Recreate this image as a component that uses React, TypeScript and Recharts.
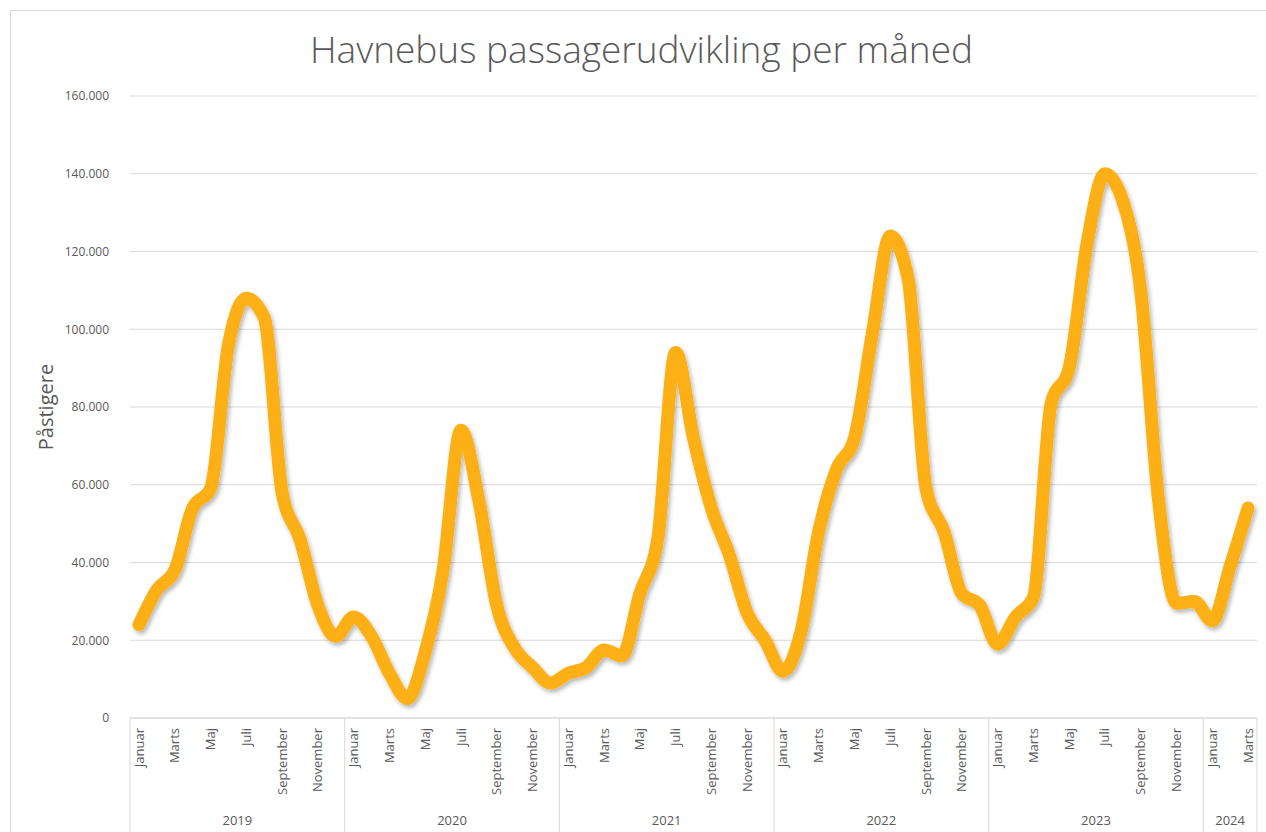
import React from 'react';
import { LineChart, Line, XAxis, YAxis, CartesianGrid } from 'recharts';

const years = [2019, 2020, 2021, 2022, 2023, 2024];
const monthNames = [
  'Januar', 'Februar', 'Marts', 'April', 'Maj', 'Juni',
  'Juli', 'August', 'September', 'Oktober', 'November', 'December',
];

const v2019 = [24000, 33000, 38000, 54000, 59000, 96000, 108000, 103000, 58000, 46000, 29000, 21000];
const v2020 = [26000, 21000, 11500, 5000, 17000, 38000, 74000, 56000, 29000, 18000, 13000, 9000];
const v2021 = [11500, 13000, 17500, 16000, 32000, 46000, 94000, 72000, 54000, 42000, 27000, 20000];
const v2022 = [12000, 22000, 48000, 64000, 72000, 99000, 124000, 113000, 59000, 48000, 32000, 29000];
const v2023 = [19000, 26000, 31000, 81000, 90000, 122000, 140000, 133000, 110000, 56000, 29500, 30000];
const v2024 = [25000, 39000, 54000];

const yTicks = [0, 20000, 40000, 60000, 80000, 100000, 120000, 140000, 160000];

const valuesByYear = [v2019, v2020, v2021, v2022, v2023, v2024];

const data = valuesByYear.flatMap((vals, yi) =>
  vals.map((value, m) => ({ key: `${years[yi]}|${m}`, value }))
);

const W = 1266;
const H = 832;
const PLOT_LEFT = 130;
const PLOT_RIGHT = 1257;
const PLOT_BOTTOM = 718;
const BAND = (PLOT_RIGHT - PLOT_LEFT) / data.length;
const PAD = { left: Math.round(BAND / 2), right: Math.round(BAND / 2) };
const GRAY = '#d9d9d9';
const TEXT = '#595959';
const FONT = '"Open Sans", sans-serif';

const fmt = (v: number) => v.toString().replace(/\B(?=(\d{3})+(?!\d))/g, '.');

function MonthTick(props: any) {
  const { x, payload } = props;
  const m = Number(String(payload.value).split('|')[1]);
  return (
    <text
      x={x}
      y={PLOT_BOTTOM + 10}
      dy="0.35em"
      textAnchor="end"
      transform={`rotate(-90, ${x}, ${PLOT_BOTTOM + 10})`}
      fill={TEXT}
      fontSize={13}
      fontFamily={FONT}
    >
      {monthNames[m]}
    </text>
  );
}

function YearTick(props: any) {
  const { x, payload } = props;
  const [yr, mStr] = String(payload.value).split('|');
  const m = Number(mStr);
  const count = valuesByYear[years.indexOf(Number(yr))].length;
  const idx = data.findIndex((d) => d.key === payload.value);
  const isLast = idx === data.length - 1;
  const mid = Math.floor(count / 2);
  const labelX = count % 2 === 0 ? x - BAND / 2 : x;
  return (
    <g>
      {m === 0 && (
        <line x1={x - BAND / 2} x2={x - BAND / 2} y1={PLOT_BOTTOM} y2={H} stroke={GRAY} />
      )}
      {isLast && (
        <line x1={x + BAND / 2} x2={x + BAND / 2} y1={PLOT_BOTTOM} y2={H} stroke={GRAY} />
      )}
      {m === mid && (
        <text x={labelX} y={825} textAnchor="middle" fill={TEXT} fontSize={13} fontFamily={FONT}>
          {yr}
        </text>
      )}
    </g>
  );
}

export default function App() {
  return (
    <div style={{ position: 'absolute', left: 0, top: 0, width: W, height: H, overflow: 'hidden', background: '#fff' }}>
      <svg width={0} height={0} style={{ position: 'absolute' }}>
        <defs>
          <filter id="lineShadow" x="-5%" y="-5%" width="110%" height="115%">
            <feDropShadow dx="2" dy="3" stdDeviation="2" floodColor="#000" floodOpacity="0.28" />
          </filter>
        </defs>
      </svg>
      <div
        style={{
          position: 'absolute', left: 10, top: 10, width: W, height: H,
          border: `1px solid ${GRAY}`, boxSizing: 'border-box',
        }}
      />
      <div
        style={{
          position: 'absolute', left: 0, top: 23, width: 1283, textAlign: 'center',
          fontFamily: FONT, fontWeight: 300, fontSize: 37, color: TEXT, lineHeight: '52px',
        }}
      >
        Havnebus passagerudvikling per måned
      </div>
      <div style={{ position: 'absolute', left: 0, top: 0 }}>
        <LineChart
          width={W}
          height={H}
          data={data}
          margin={{ top: 96, right: W - PLOT_RIGHT, bottom: 0, left: 0 }}
        >
          <CartesianGrid vertical={false} stroke={GRAY} />
          <XAxis
            dataKey="key"
            height={80}
            interval={1}
            padding={PAD}
            tickLine={false}
            axisLine={{ stroke: GRAY }}
            tick={<MonthTick />}
          />
          <XAxis
            xAxisId="year"
            dataKey="key"
            height={34}
            interval={0}
            padding={PAD}
            tickLine={false}
            axisLine={false}
            tick={<YearTick />}
          />
          <YAxis
            width={PLOT_LEFT}
            domain={[0, 160000]}
            ticks={yTicks}
            tickFormatter={fmt}
            axisLine={false}
            tickLine={false}
            tickMargin={15}
            tick={{ fill: TEXT, fontSize: 12, fontFamily: FONT }}
            label={{
              value: 'Påstigere', angle: -90, position: 'insideLeft', offset: 46,
              style: { textAnchor: 'middle', fill: TEXT, fontSize: 20, fontFamily: FONT },
            }}
          />
          <Line
            type="monotone"
            dataKey="value"
            stroke="#FCB016"
            strokeWidth={13}
            strokeLinecap="round"
            strokeLinejoin="round"
            dot={false}
            activeDot={false}
            filter="url(#lineShadow)"
            isAnimationActive={false}
          />
        </LineChart>
      </div>
    </div>
  );
}
